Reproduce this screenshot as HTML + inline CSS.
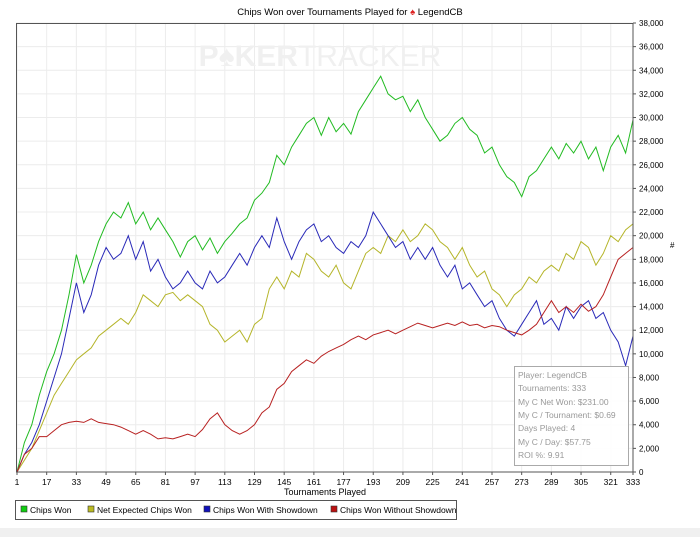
<!DOCTYPE html>
<html><head><meta charset="utf-8"><style>
body{margin:0;background:#fff;font-family:"Liberation Sans",Arial,sans-serif}
svg text{font-family:"Liberation Sans",Arial,sans-serif}
</style></head><body>
<svg id="c" width="700" height="537" xmlns="http://www.w3.org/2000/svg">
<rect x="0" y="528" width="700" height="9" fill="#f0f0f0"/>
<text x="350" y="15" font-size="9.5" text-anchor="middle">Chips Won over Tournaments Played for <tspan fill="#d22">♠</tspan> LegendCB</text>
<g id="grid"></g>
<text x="320" y="66" font-size="30" font-weight="bold" fill="#f0f0f0" text-anchor="middle">P♠KER<tspan font-weight="normal">TRACKER</tspan></text>
<g id="series"></g>
<g id="axes"></g>
<g>
<rect x="514.5" y="366.5" width="114" height="99" fill="#fff" fill-opacity="0.9" stroke="#aaa"/>
<g font-size="8.5" fill="#999">
<text x="518" y="378">Player: LegendCB</text>
<text x="518" y="391">Tournaments: 333</text>
<text x="518" y="405">My C Net Won: $231.00</text>
<text x="518" y="418">My C / Tournament: $0.69</text>
<text x="518" y="431">Days Played: 4</text>
<text x="518" y="445">My C / Day: $57.75</text>
<text x="518" y="458">ROI %: 9.91</text>
</g></g>
<text x="325" y="495" font-size="9" text-anchor="middle">Tournaments Played</text>
<text x="670" y="248" font-size="8">#</text>
<g>
<rect x="15.5" y="500.5" width="441" height="19" fill="#fff" stroke="#555"/>
<g font-size="8.5">
<rect x="21" y="506" width="6" height="6" fill="#1c1" stroke="#333" stroke-width="0.6"/>
<text x="30" y="513">Chips Won</text>
<rect x="88" y="506" width="6" height="6" fill="#bb2" stroke="#333" stroke-width="0.6"/>
<text x="97" y="513">Net Expected Chips Won</text>
<rect x="204" y="506" width="6" height="6" fill="#11b" stroke="#333" stroke-width="0.6"/>
<text x="213" y="513">Chips Won With Showdown</text>
<rect x="331" y="506" width="6" height="6" fill="#b11" stroke="#333" stroke-width="0.6"/>
<text x="340" y="513">Chips Won Without Showdown</text>
</g></g>
</svg>
<script>
const tournaments=[];for(let t=1;t<=333;t+=4)tournaments.push(t);
const chipsWon=[0,2.5,4,6.5,8.5,10,12,15,18.4,16,17.5,19.5,21,22,21.5,22.8,21,22,20.5,21.5,20.5,19.5,18.2,19.5,20,18.8,19.8,18.5,19.5,20.2,21,21.5,23,23.6,24.5,26.8,26,27.5,28.5,29.5,30,28.5,30,28.8,29.5,28.6,30.5,31.5,32.5,33.5,32,31.5,31.8,30.5,31.5,30,29,28,28.5,29.5,30,29,28.5,27,27.5,26,25,24.5,23.3,25,25.5,26.5,27.5,26.5,27.8,27,28,26.5,27.5,25.5,27.5,28.5,27,29.8];
const netExpected=[0,1,2,3.5,5,6.5,7.5,8.5,9.5,10,10.5,11.5,12,12.5,13,12.5,13.5,15,14.5,14,15,15.2,14.5,15,14.5,14,12.5,12,11,11.5,12,11,12.5,13,15.5,16.5,15.5,17,16.5,18.5,18,17,16.5,17.5,16,15.5,17,18.5,19,18.5,20,19.5,20.5,19.5,20,21,20.5,19.5,19,18,19,17.5,16.5,17,15.5,15,14,15,15.5,16.5,16,17,17.5,17,18.5,18,19.5,19,17.5,18.5,20,19.5,20.5,21];
const withShowdown=[0,1.5,2.5,4,6,8,10,13,16,13.5,15,17.5,19,18,18.5,20,18,19.5,17,18,16.5,15.5,16,17,16,15.5,17,16,16.5,17.5,18.5,17.5,19,20,19,21.5,19.5,18,19.5,20.5,21,19.5,20,19,18.5,19.5,19,20,22,21,20,19,19.5,18,19,18,19,17.5,16.5,17.5,15.5,16,15,14,14.5,13,12,11.5,12.5,13.5,14.5,12.5,13,12,14,13,14,14.5,13,13.5,12,11,9,11.5];
const withoutShowdown=[0,1.5,2,3,3,3.5,4,4.2,4.3,4.2,4.5,4.2,4.1,4,3.8,3.5,3.2,3.5,3.2,2.8,2.9,2.8,3,3.2,3,3.6,4.5,5,4,3.5,3.2,3.5,4,5,5.5,7,7.5,8.5,9,9.5,9.2,9.8,10.2,10.5,10.8,11.2,11.5,11.2,11.6,11.8,12,11.7,12,12.3,12.6,12.4,12.2,12.4,12.6,12.4,12.7,12.4,12.5,12.2,12.4,12.3,12,11.8,11.6,12,12.5,13.5,14.5,13.5,14,13.5,14.2,13.6,14,15,16.5,18,18.5,19];
const xTicks=[1,17,33,49,65,81,97,113,129,145,161,177,193,209,225,241,257,273,289,305,321,333];
const yTicks=[0,2000,4000,6000,8000,10000,12000,14000,16000,18000,20000,22000,24000,26000,28000,30000,32000,34000,36000,38000];
const NS="http://www.w3.org/2000/svg";
const X0=17,X1=633,Y0=472,Y1=23;
const xs=t=>X0+(t-1)/(332)*(X1-X0);
const ys=v=>Y0-v/38000*(Y0-Y1);
function mk(tag,a,p){const e=document.createElementNS(NS,tag);for(const k in a)e.setAttribute(k,a[k]);p.appendChild(e);return e;}
const grid=document.getElementById('grid'),axes=document.getElementById('axes'),ser=document.getElementById('series');
xTicks.forEach(t=>{const x=xs(t);
const g=mk('line',{x1:x,x2:x,y1:Y1,y2:Y0,stroke:'#ececec'},grid);


mk('line',{x1:x,x2:x,y1:Y0,y2:Y0+3,stroke:'#555'},axes);
const l=mk('text',{x:x,y:Y0+13,'font-size':8.5,'text-anchor':'middle'},axes);l.textContent=t;

});
yTicks.forEach(v=>{const y=ys(v);
const g=mk('line',{x1:X0-1,x2:X1,y1:y,y2:y,stroke:'#ececec'},grid);


mk('line',{x1:X1,x2:X1+3,y1:y,y2:y,stroke:'#555'},axes);
const l=mk('text',{x:X1+6,y:y+3,'font-size':8},axes);l.textContent=v.toLocaleString('en-US');

});
mk('rect',{x:16.5,y:23.5,width:X1-16.5,height:Y0-23.5,fill:'none',stroke:'#555'},axes);
[[chipsWon,'#22bb22','line-chips-won'],[netExpected,'#b5b52a','line-net-expected'],[withShowdown,'#2a2ab8','line-with-showdown'],[withoutShowdown,'#b82222','line-without-showdown']].forEach(([d,c,n])=>{
const pts=d.map((v,i)=>xs(tournaments[i]).toFixed(1)+','+ys(v*1000).toFixed(1)).join(' ');
const p=mk('polyline',{points:pts,fill:'none',stroke:c,'stroke-width':1},ser);

});
</script>
</body></html>
